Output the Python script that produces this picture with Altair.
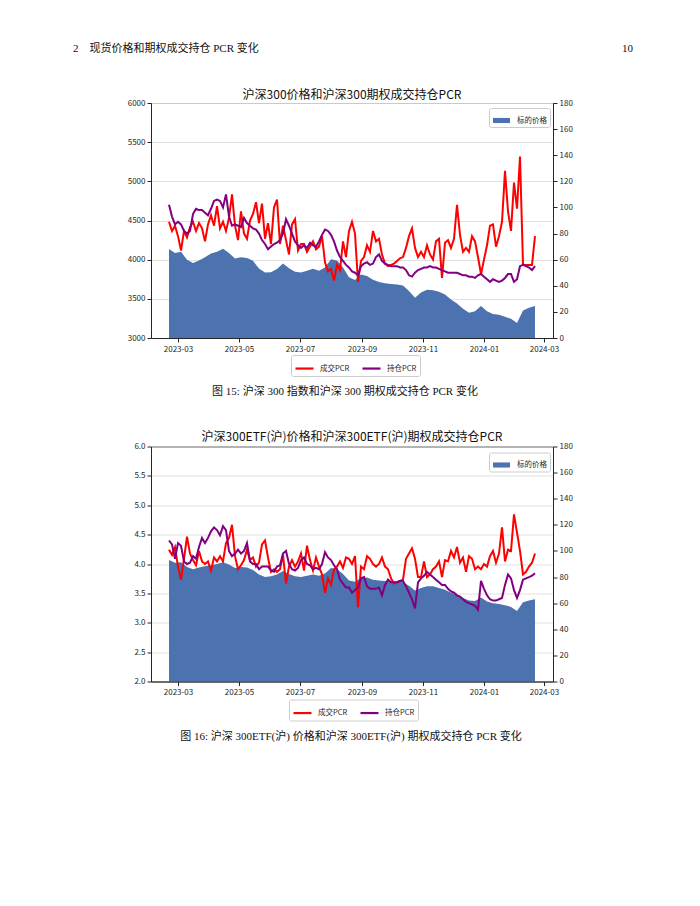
import altair as alt
import pandas as pd

BLUE = "#4C72B0"
RED = "#FF0000"
PURPLE = "#800080"
CJK = "Noto Sans CJK SC"
SERIF = "Liberation Serif, Noto Sans CJK SC"

HEADER = "2\u2003现货价格和期权成交持仓 PCR 变化"
PAGE_NO = "10"
TITLE1 = "沪深300价格和沪深300期权成交持仓PCR"
TITLE2 = "沪深300ETF(沪)价格和沪深300ETF(沪)期权成交持仓PCR"
CAPTION1 = "图 15: 沪深 300 指数和沪深 300 期权成交持仓 PCR 变化"
CAPTION2 = "图 16: 沪深 300ETF(沪) 价格和沪深 300ETF(沪) 期权成交持仓 PCR 变化"
PRICE_NAME = "标的价格"
SERIES = ["成交PCR", "持仓PCR"]

# dates (x categories)
price_dates = pd.date_range("2023-02-20", periods=62, freq="6D")
pcr_dates = pd.date_range("2023-02-20", periods=123, freq="3D")

# ---- 沪深300 ----
idx_price = [4135, 4085, 4100, 4000, 3957, 3990, 4030, 4080, 4100, 4140,
             4084, 4015, 4030, 4020, 3985, 3886, 3835, 3840, 3880, 3950,
             3890, 3845, 3835, 3860, 3885, 3860, 3900, 4005, 3990, 3900,
             3775, 3740, 3810, 3790, 3745, 3715, 3700, 3690, 3682, 3670,
             3600, 3515, 3580, 3615, 3610, 3590, 3555, 3490, 3440, 3375,
             3322, 3340, 3410, 3340, 3305, 3296, 3270, 3245, 3190, 3350,
             3385, 3410]
idx_trade_pcr = [89, 82, 86, 78, 67, 82, 77, 85, 89, 82,
                 88, 84, 74, 87, 94, 86, 101, 84, 89, 82,
                 92, 110, 86, 75, 97, 80, 76, 90, 95, 104,
                 88, 103, 76, 88, 72, 100, 106, 72, 86, 75,
                 64, 87, 91, 67, 72, 72, 66, 70, 74, 68,
                 70, 78, 58, 51, 53, 44, 56, 52, 74, 62,
                 82, 89, 80, 43,
                 59, 62, 71, 66, 82, 74, 76, 64, 57, 55,
                 56, 57, 59, 61, 62, 69, 78, 84, 69, 62,
                 66, 62, 71, 64, 60, 74, 76, 46, 73, 75,
                 69, 76, 102, 79, 66, 69, 66, 78, 74, 62,
                 49, 60, 71, 86, 87, 70, 78, 89, 128, 97,
                 82, 119, 99, 139, 56, 56, 56, 56, 78]
idx_oi_pcr = [102, 93, 87, 89, 87, 82, 80, 82, 95, 99,
              98, 98, 96, 94, 99, 105, 106, 105, 100, 110,
              93, 86, 87, 86, 85, 92, 88, 86, 84, 83,
              80, 75, 72, 68, 70, 72, 73, 75, 80, 91,
              86, 80, 74, 71, 69, 71, 69, 73, 71, 70,
              74, 79, 83, 82, 79, 74, 67, 62, 59, 56,
              54, 51, 50, 48,
              55, 57, 58, 56, 57, 62, 64, 59, 57, 56,
              55, 55, 55, 54, 54, 52, 48, 47, 50, 52,
              53, 54, 54, 55, 54, 54, 53, 52, 51, 50,
              50, 50, 50, 49, 48, 48, 47, 47, 46, 48,
              49, 47, 45, 43, 45, 44, 43, 44, 46, 49,
              49, 43, 45, 55, 56, 55, 54, 52, 55]

# ---- 沪深300ETF(沪) ----
etf_price = [4.07, 4.02, 4.03, 3.95, 3.91, 3.94, 3.96, 3.98, 4.00, 4.03,
             3.99, 3.93, 3.95, 3.94, 3.90, 3.82, 3.78, 3.79, 3.82, 3.88,
             3.83, 3.79, 3.78, 3.80, 3.82, 3.80, 3.84, 3.93, 3.91, 3.83,
             3.72, 3.70, 3.76, 3.77, 3.73, 3.72, 3.71, 3.70, 3.70, 3.69,
             3.63, 3.55, 3.59, 3.62, 3.62, 3.59, 3.56, 3.51, 3.47, 3.42,
             3.38, 3.37, 3.43, 3.36, 3.33, 3.32, 3.30, 3.27, 3.20, 3.35,
             3.38, 3.40]
etf_trade_pcr = [101, 97, 103, 88, 78, 94, 111, 98, 93, 89,
                 100, 92, 90, 92, 85, 95, 92, 96, 92, 106,
                 110, 120, 96, 86, 89, 93, 101, 93, 95, 88,
                 91, 105, 108, 95, 84, 86, 84, 86, 97, 75,
                 88, 93, 88, 92, 98, 85, 104, 93, 85, 95,
                 88, 82, 68, 79, 74, 86, 88, 92, 87, 95,
                 94, 90, 96, 57,
                 88, 86, 96, 94, 90, 88, 90, 95, 88, 86,
                 79, 75, 76, 77, 78, 94, 98, 102, 94, 80,
                 80, 92, 80, 82, 86, 88, 92, 80, 93, 92,
                 100, 95, 103, 91, 95, 84, 96, 94, 86, 88,
                 86, 90, 88, 96, 100, 91, 98, 118, 92, 101,
                 100, 128, 114, 100, 82, 84, 88, 91, 98]
etf_oi_pcr = [108, 105, 94, 106, 104, 92, 90, 91, 96, 94,
              103, 110, 106, 110, 115, 118, 116, 112, 119, 116,
              100, 96, 98, 101, 98, 100, 106, 92, 90, 90,
              86, 88, 88, 88, 85, 84, 88, 89, 98, 100,
              90, 86, 85, 87, 93, 95, 90, 89, 86, 87,
              86, 90, 99, 95, 93, 89, 86, 78, 75, 72,
              72, 68, 70, 72,
              79, 80, 73, 71, 71, 71, 72, 66, 74, 78,
              76, 76, 76, 77, 77, 73, 68, 63, 56, 76,
              79, 81, 84, 82, 80, 78, 76, 74, 74, 71,
              69, 68, 66, 65, 63, 61, 60, 59, 58, 55,
              77, 71, 66, 63, 62, 62, 63, 64, 74, 82,
              79, 70, 64, 70, 78, 79, 80, 81, 83]

x_domain = [alt.DateTime(year=2023, month=2, date=2), alt.DateTime(year=2024, month=3, date=10)]
x_ticks = [alt.DateTime(year=y, month=m, date=1)
           for (y, m) in [(2023, 3), (2023, 5), (2023, 7), (2023, 9), (2023, 11), (2024, 1), (2024, 3)]]


def price_frame(values):
    return pd.DataFrame({"date": price_dates, "price": values, "series": PRICE_NAME})


def pcr_frame(trade, oi):
    a = pd.DataFrame({"date": pcr_dates, "pcr": trade, "name": SERIES[0]})
    b = pd.DataFrame({"date": pcr_dates, "pcr": oi, "name": SERIES[1]})
    return pd.concat([a, b], ignore_index=True)


def text_layer(txt, x, y, size, align="center", font=SERIF):
    return alt.Chart(pd.DataFrame({"t": [txt]})).mark_text(
        align=align, baseline="middle", font=font, fontSize=size, color="#111"
    ).encode(text="t:N", x=alt.value(x), y=alt.value(y))


def panel(price_df, pcr_df, y_dom, y_vals, y_fmt, width, leg1, leg2, extra):
    x_enc = alt.X("date:T", scale=alt.Scale(domain=x_domain),
                  axis=alt.Axis(values=x_ticks, format="%Y-%m", title=None, grid=False,
                                zindex=1, labelPadding=3))
    area = alt.Chart(price_df).mark_area(opacity=1).encode(
        x=x_enc,
        y=alt.Y("price:Q", scale=alt.Scale(domain=y_dom, nice=False, zero=False),
                axis=alt.Axis(values=y_vals, format=y_fmt, title=None, grid=True, zindex=0)),
        y2=alt.datum(y_dom[0]),
        color=alt.Color("series:N", scale=alt.Scale(domain=[PRICE_NAME], range=[BLUE]),
                        legend=alt.Legend(title=None, orient="none", legendX=leg1[0], legendY=leg1[1],
                                          symbolType="M-1,-0.3H1V0.3H-1Z", symbolSize=289,
                                          symbolOpacity=1, labelOffset=6)),
    )
    lines = alt.Chart(pcr_df).mark_line(strokeWidth=2).encode(
        x=x_enc,
        y=alt.Y("pcr:Q", scale=alt.Scale(domain=[0, 180], nice=False),
                axis=alt.Axis(orient="right", values=list(range(0, 181, 20)), title=None,
                              grid=False, zindex=1)),
        color=alt.Color("name:N", scale=alt.Scale(domain=SERIES, range=[RED, PURPLE]),
                        legend=alt.Legend(title=None, orient="none", legendX=leg2[0], legendY=leg2[1],
                                          direction="horizontal", symbolType="stroke",
                                          symbolStrokeWidth=2.2, symbolSize=324, columnPadding=8,
                                          labelOffset=5)),
        detail="name:N",
    )
    layers = [area, lines] + extra
    return alt.layer(*layers).resolve_scale(y="independent", color="independent").properties(
        width=width, height=235,
    )


chart1 = panel(
    price_frame(idx_price), pcr_frame(idx_trade_pcr, idx_oi_pcr),
    [3000, 6000], list(range(3000, 6001, 500)), "d", 402, (338, 5), (140, 252),
    [text_layer(TITLE1, 201, -8, 12, font=CJK),
     text_layer(HEADER, -78, -54, 11, "left"),
     text_layer(PAGE_NO, 482, -54, 11, "right"),
     text_layer(CAPTION1, 194, 289, 11)],
)
chart2 = panel(
    price_frame(etf_price), pcr_frame(etf_trade_pcr, etf_oi_pcr),
    [2, 6], [2.0, 2.5, 3.0, 3.5, 4.0, 4.5, 5.0, 5.5, 6.0], ".1f", 402, (338, 6), (138, 253),
    [text_layer(TITLE2, 201, -9.5, 12, font=CJK),
     text_layer(CAPTION2, 200, 290, 11)],
)

chart = alt.vconcat(chart1, chart2, spacing=32.5).properties(
    padding={"left": 64, "top": 34, "right": 10, "bottom": 10}
).configure_axis(
    labelFont=CJK, labelFontSize=8, labelColor="#262626", tickColor="#262626",
    domainColor="#262626", tickSize=4, labelPadding=2, gridColor="#dddddd", gridWidth=0.9,
).configure_view(
    stroke="#262626", strokeWidth=1
).configure_legend(
    labelFont=CJK, labelFontSize=7.5, labelColor="#262626", fillColor="white",
    strokeColor="#cccccc", padding=3, cornerRadius=2,
)

chart.save("out.html", embed_options={"renderer": "svg", "actions": False})
